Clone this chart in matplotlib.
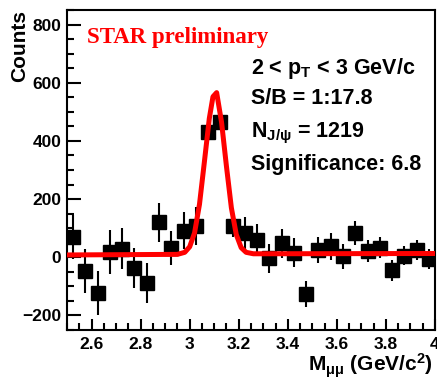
import numpy as np
import matplotlib
matplotlib.use("Agg")
import matplotlib.pyplot as plt
from matplotlib.ticker import MultipleLocator, FixedLocator

# data
mass = [2.525, 2.575, 2.625, 2.675, 2.725, 2.775, 2.825, 2.875, 2.925, 2.975,
        3.025, 3.075, 3.125, 3.175, 3.225, 3.275, 3.325, 3.375, 3.425, 3.475,
        3.525, 3.575, 3.625, 3.675, 3.725, 3.775, 3.825, 3.875, 3.925, 3.975]
counts = [70, -47, -123, 18, 30, -37, -87, 120, 32, 91,
          108, 432, 466, 108, 84, 61, -4, 48, 15, -126,
          24, 38, 3, 84, 22, 33, -45, 5, 24, -6]
errors = [75, 77, 75, 76, 70, 70, 69, 66, 60, 63,
          65, 25, 25, 40, 55, 53, 51, 50, 50, 44,
          44, 46, 44, 41, 37, 35, 37, 33, 35, 36]

# fit curve (gauss + background) as drawn
fit_x = [2.5, 2.95, 2.98, 3.00, 3.02, 3.04, 3.06, 3.08, 3.095, 3.11,
         3.13, 3.15, 3.17, 3.19, 3.21, 3.23, 3.26, 4.0]
fit_y = [8, 10, 17, 36, 84, 182, 328, 477, 552, 566,
         464, 312, 170, 78, 33, 17, 12, 13]

xticks = [2.6, 2.8, 3.0, 3.2, 3.4, 3.6, 3.8, 4.0]
xtick_labels = ["2.6", "2.8", "3", "3.2", "3.4", "3.6", "3.8", "4"]
yticks = [-200, 0, 200, 400, 600, 800]

plt.rcParams['font.family'] = ['Liberation Sans', 'DejaVu Sans']
plt.rcParams['font.weight'] = 'bold'
plt.rcParams['mathtext.fontset'] = 'custom'
plt.rcParams['mathtext.rm'] = 'Liberation Sans:bold'
plt.rcParams['mathtext.it'] = 'Liberation Sans:bold'
plt.rcParams['mathtext.bf'] = 'Liberation Sans:bold'
plt.rcParams['mathtext.default'] = 'rm'

W, H = 437, 379
fig = plt.figure(figsize=(W / 100, H / 100), dpi=100)
ax = fig.add_axes([67 / W, 1 - 330 / H, (435 - 67) / W, (330 - 10) / H])

ax.errorbar(mass, counts, yerr=errors, fmt='s', color='black', ms=10.5,
            elinewidth=1.5, capsize=0, zorder=2)
ax.plot(fit_x, fit_y, color='#ff0000', lw=3.6, zorder=3)

ax.set_xlim(2.5, 4.0)
ax.set_ylim(-250, 850)
ax.xaxis.set_major_locator(FixedLocator(xticks))
ax.set_xticklabels(xtick_labels)
ax.xaxis.set_minor_locator(MultipleLocator(0.05))
ax.yaxis.set_major_locator(FixedLocator(yticks))
ax.yaxis.set_minor_locator(MultipleLocator(50))
ax.tick_params(which='both', direction='in', top=False, right=False,
               labelsize=12.5, width=1.5)
ax.tick_params(which='major', length=10, pad=4)
ax.tick_params(which='minor', length=5)
ax.tick_params(axis='x', which='major', length=8, pad=5)
for s in ax.spines.values():
    s.set_linewidth(1.5)

# labels
fig.text(20 / W, 1 - 10 / H, "Counts", rotation=90, ha='center', va='top',
         fontsize=15, fontweight='bold')
fig.text(433 / W, 1 - 372 / H, r"M$_{\mu\mu}$ (GeV/c$^{2}$)", ha='right',
         va='baseline', fontsize=15, fontweight='bold')

fig.text(87 / W, 1 - 42.7 / H, "STAR preliminary", color='#ff0000',
         family='Liberation Serif', fontweight='bold', fontsize=16.5,
         va='baseline')

info = [r"2 < p$_{\rm T}$ < 3 GeV/c", "S/B = 1:17.8",
        r"N$_{\rm J/\psi}$ = 1219", "Significance: 6.8"]
baselines = [74, 104, 137, 170]
for t, b in zip(info, baselines):
    fig.text(251 / W, 1 - b / H, t, fontsize=15.5, fontweight='bold',
             va='baseline')

fig.savefig("out.png", dpi=100)
